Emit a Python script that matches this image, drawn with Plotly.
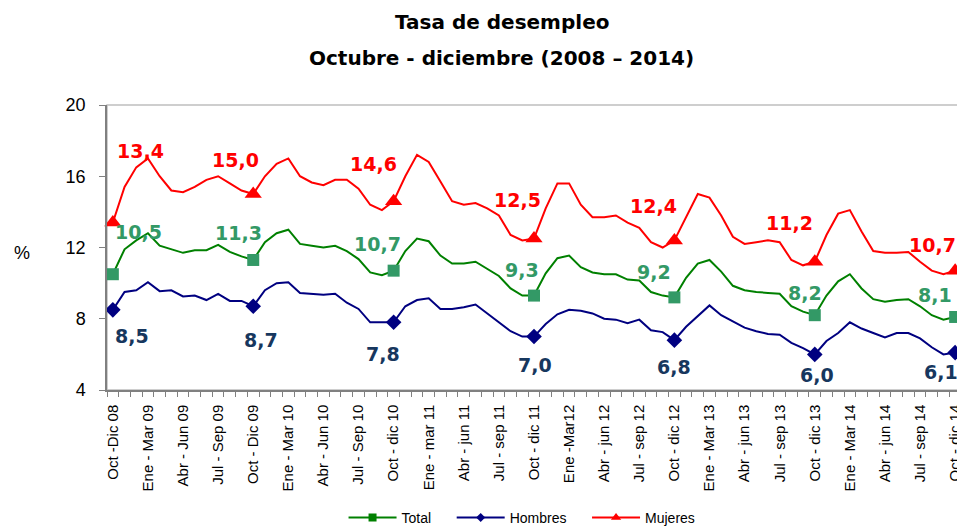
import plotly.graph_objects as go

# ---- data ----
tick_labels = ["Oct -Dic 08", "Ene - Mar 09", "Abr - Jun 09", "Jul - Sep 09",
               "Oct - Dic 09", "Ene - Mar 10", "Abr - Jun 10", "Jul - Sep 10",
               "Oct - dic 10", "Ene - mar 11", "Abr - jun 11", "Jul - sep 11",
               "Oct - dic 11", "Ene -Mar12", "Abr - jun 12", "Jul - sep 12",
               "Oct - dic 12", "Ene - Mar 13", "Abr - jun 13", "Jul - sep 13",
               "Oct - dic 13", "Ene - Mar 14", "Abr - jun 14", "Jul - sep 14",
               "Oct - dic 14"]

mujeres = [13.4, 15.4, 16.5, 17.0, 16.0, 15.2, 15.1, 15.4, 15.8, 16.0, 15.6, 15.2,
           15.0, 16.0, 16.7, 17.0, 16.0, 15.65, 15.5, 15.8, 15.8, 15.3, 14.4, 14.1,
           14.6, 16.0, 17.2, 16.8, 15.7, 14.6, 14.4, 14.5, 14.2, 13.8, 12.7, 12.4,
           12.5, 14.2, 15.6, 15.6, 14.4, 13.7, 13.7, 13.8, 13.4, 13.1, 12.3, 12.0,
           12.4, 13.7, 15.0, 14.8, 13.8, 12.6, 12.2, 12.3, 12.4, 12.3, 11.3, 11.0,
           11.2, 12.7, 13.9, 14.1, 12.9, 11.8, 11.7, 11.7, 11.75, 11.2, 10.7, 10.5,
           10.7]

total = [10.5, 11.9, 12.4, 12.8, 12.1, 11.9, 11.7, 11.85, 11.85, 12.15, 11.75, 11.5,
         11.3, 12.3, 12.8, 13.0, 12.2, 12.1, 12.0, 12.1, 11.8, 11.35, 10.6, 10.45,
         10.7, 11.8, 12.5, 12.35, 11.55, 11.1, 11.1, 11.2, 10.8, 10.4, 9.7, 9.3,
         9.3, 10.55, 11.4, 11.55, 10.9, 10.6, 10.5, 10.5, 10.2, 10.15, 9.5, 9.3,
         9.2, 10.3, 11.1, 11.3, 10.65, 9.85, 9.6, 9.5, 9.45, 9.4, 8.7, 8.4,
         8.2, 9.3, 10.1, 10.5, 9.7, 9.1, 8.95, 9.05, 9.1, 8.7, 8.2, 7.95,
         8.1]

hombres = [8.5, 9.5, 9.6, 10.05, 9.55, 9.6, 9.25, 9.3, 9.05, 9.4, 9.0, 9.0,
           8.7, 9.6, 10.0, 10.05, 9.45, 9.4, 9.35, 9.4, 8.9, 8.55, 7.8, 7.8,
           7.8, 8.7, 9.05, 9.15, 8.55, 8.55, 8.65, 8.8, 8.3, 7.85, 7.3, 7.0,
           7.0, 7.7, 8.25, 8.5, 8.45, 8.3, 8.0, 7.95, 7.75, 7.95, 7.35, 7.25,
           6.8, 7.55, 8.15, 8.75, 8.2, 7.85, 7.5, 7.3, 7.15, 7.1, 6.65, 6.35,
           6.0, 6.75, 7.2, 7.8, 7.45, 7.2, 6.95, 7.2, 7.2, 6.9, 6.4, 6.0,
           6.1]

# ---- styling ----
label_step = 3      # one tick label every 3 rolling quarters
marker_step = 12    # markers/labels on each Oct-Dic quarter

# label offsets in pixels (dx, dy) for each marked point
off_muj = [(28, 72), (-18, 34), (-20, 37), (-17, 39), (-21, 34), (-25, 39), (-23, 26)]
off_tot = [(26, 42), (-15, 27), (-16, 27), (-12, 26), (-20, 25), (-10, 22), (-20, 22)]
off_hom = [(19, -26), (8, -34), (-11, -32), (1, -28), (0, -27), (2, -21), (-14, -19)]

NB = "\u00a0"
series = [
    dict(name="Total", pad=4, y=total, line="#008000", mcolor="#339966", lcolor="#339966",
         symbol="square", size=12, lsize=8, off=off_tot),
    dict(name="Hombres", pad=4, y=hombres, line="#000080", mcolor="#000080", lcolor="#17375E",
         symbol="diamond", size=12, lsize=7, off=off_hom),
    dict(name="Mujeres", pad=0, y=mujeres, line="#FF0000", mcolor="#FF0000", lcolor="#FF0000",
         symbol="triangle-up", size=15, lsize=9, off=off_muj),
]

n = len(total)
xs = list(range(n))
mark_idx = list(range(0, n, marker_step))

fig = go.Figure()
annotations = []
for s in series:
    sizes = [s["size"] if i % marker_step == 0 else 0 for i in xs]
    fig.add_trace(go.Scatter(
        x=xs, y=s["y"], mode="lines+markers", showlegend=False, cliponaxis=False,
        line=dict(color=s["line"], width=2),
        marker=dict(symbol=s["symbol"], size=sizes, color=s["mcolor"], opacity=1,
                    line=dict(width=0)),
        hoverinfo="x+y"))
    # legend entry
    fig.add_trace(go.Scatter(
        x=[None], y=[None], mode="lines+markers", name=s["name"] + NB * s["pad"],
        line=dict(color=s["line"], width=2),
        marker=dict(symbol=s["symbol"], size=s["lsize"], color=s["line"], opacity=1)))
    for k, i in enumerate(mark_idx):
        v = s["y"][i]
        dx, dy = s["off"][k]
        annotations.append(dict(
            x=i, y=v, xref="x", yref="y", showarrow=False,
            text="<b>" + f"{v:.1f}".replace(".", ",") + "</b>", xshift=dx, yshift=dy,
            font=dict(family="DejaVu Sans", size=19, color=s["lcolor"]),
            xanchor="center", yanchor="middle"))

# titles
annotations.append(dict(x=0.462, y=1.291, xref="paper", yref="paper", showarrow=False,
                        text="<b>Tasa de desempleo</b>", xanchor="center", yanchor="middle",
                        font=dict(family="DejaVu Sans", size=20, color="#000000")))
annotations.append(dict(x=0.462, y=1.165, xref="paper", yref="paper", showarrow=False,
                        text="<b>Octubre - diciembre (2008 – 2014)</b>", xanchor="center",
                        yanchor="middle",
                        font=dict(family="DejaVu Sans", size=20, color="#000000")))
annotations.append(dict(x=-0.099, y=0.48, xref="paper", yref="paper", showarrow=False,
                        text="%", xanchor="center", yanchor="middle",
                        font=dict(family="Liberation Sans", size=18, color="#000000")))

# the page body adds an 8px offset; the figure is sized so the plot sits where the reference has it
fig.update_layout(
    width=957, height=519,
    margin=dict(l=99, r=4, t=97, b=137, autoexpand=False),
    paper_bgcolor="white", plot_bgcolor="white",
    annotations=annotations,
    showlegend=True,
    legend=dict(orientation="h", x=0.486, y=-0.449, xanchor="center", yanchor="middle",
                font=dict(family="Liberation Sans", size=14, color="#000000"),
                itemwidth=48, tracegroupgap=0),
    shapes=[dict(type="rect", xref="paper", yref="paper", x0=0, y0=0, x1=1, y1=1,
                 line=dict(color="#BFBFBF", width=1.5), layer="below")],
)

fig.update_xaxes(
    range=[-0.5, n - 0.5],
    tickmode="array", tickvals=xs[::label_step], ticktext=tick_labels,
    tickangle=-90, ticks="", showgrid=False, zeroline=False,
    showline=True, linecolor="#808080", linewidth=1.5,
    ticklabelstandoff=7,
    tickfont=dict(family="Liberation Sans", size=15, color="#000000"),
    minor=dict(tickmode="linear", tick0=-0.5, dtick=1, ticks="outside",
               ticklen=5, tickcolor="#808080", tickwidth=1, showgrid=False),
)
fig.update_yaxes(
    range=[4, 20], dtick=4, tick0=4, ticks="outside", ticklen=6,
    tickcolor="#808080", showgrid=False, zeroline=False,
    showline=True, linecolor="#808080", linewidth=1.5,
    ticklabelstandoff=10,
    tickfont=dict(family="Liberation Sans", size=18, color="#000000"),
)

fig.write_html("out.html")
